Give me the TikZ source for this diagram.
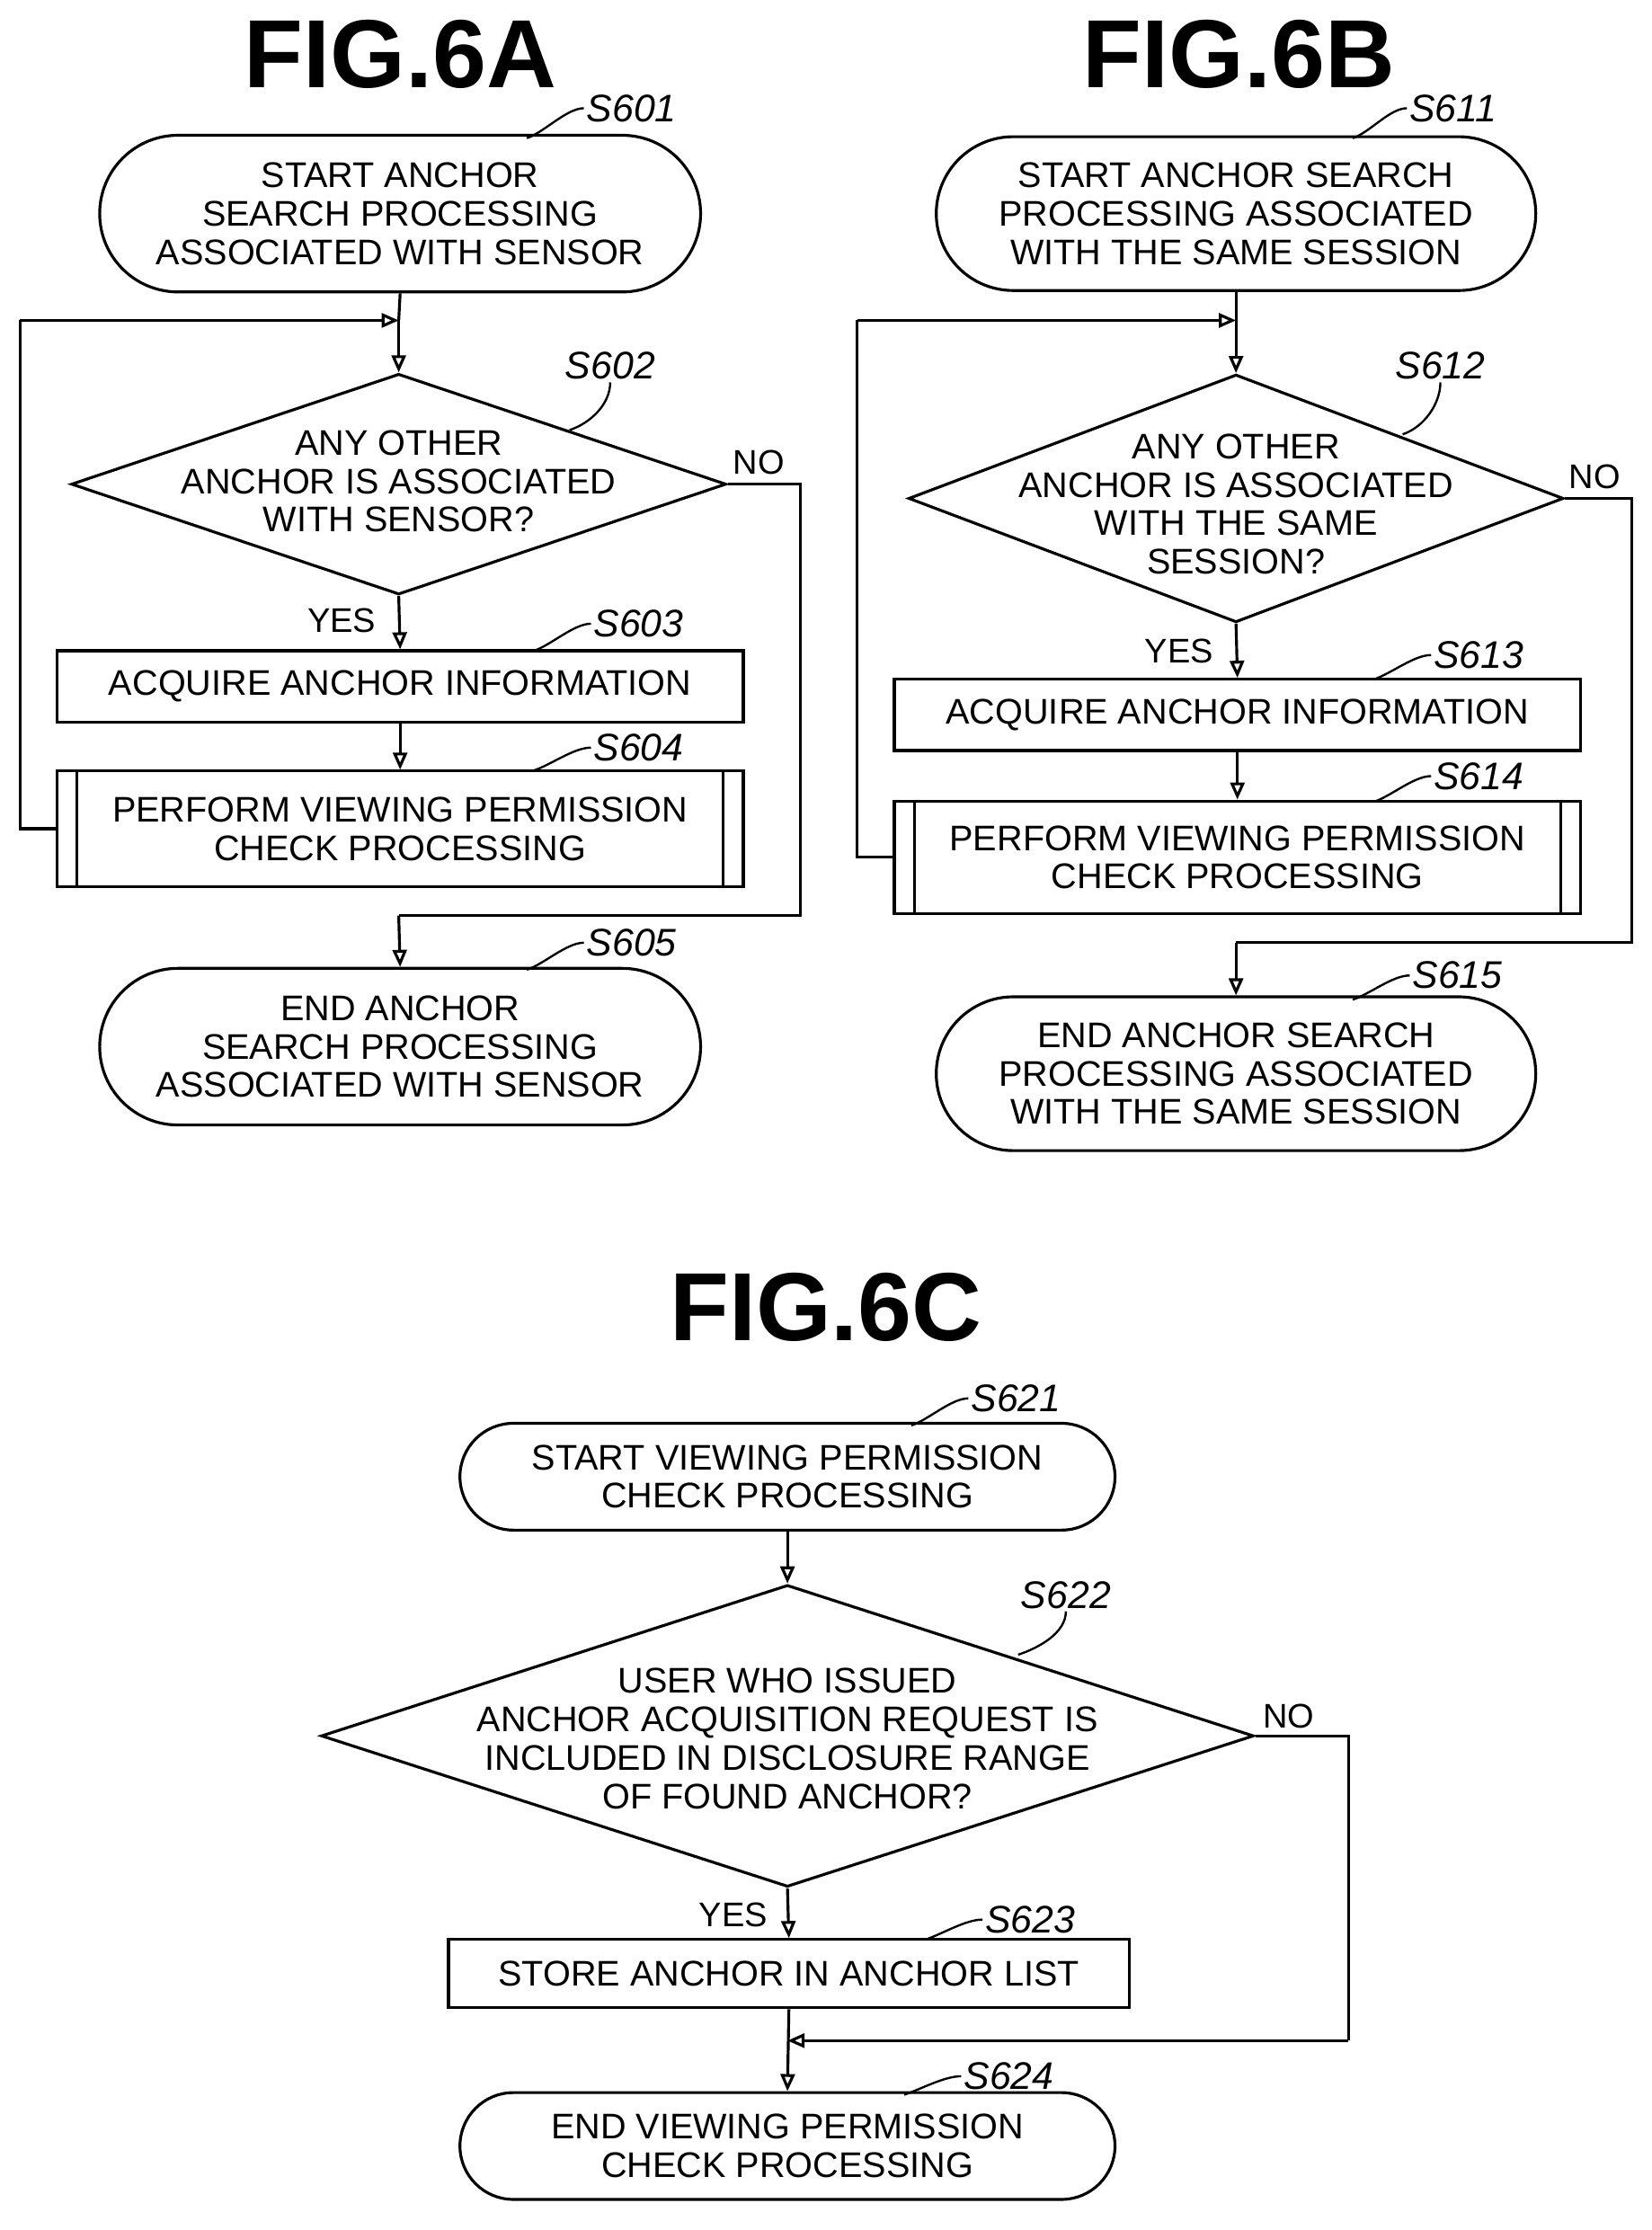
\documentclass[tikz,border=0pt]{standalone}
\usepackage{fontspec}
\setmainfont{Liberation Sans}
\usetikzlibrary{shapes.misc,shapes.geometric,arrows.meta}
\begin{document}
\begin{tikzpicture}[x=1pt,y=-1pt,line width=2pt,
  txt/.style={font=\fontsize{25}{27}\selectfont,align=center,inner sep=0pt},
  term/.style={txt,draw,rounded rectangle,minimum height=#1},
  box/.style={txt,draw,rectangle},
  dia/.style={txt,draw,diamond,aspect=2.6,inner sep=0pt},
  lbl/.style={font=\fontsize{27}{27}\selectfont\itshape,inner sep=1pt},
  ttl/.style={font=\fontsize{68}{68}\selectfont\bfseries,inner sep=0pt},
  yn/.style={font=\fontsize{24}{24}\selectfont,inner sep=0pt},
  arr/.style={-{Triangle[length=12pt,width=10pt,open]}}]
\useasboundingbox (0,0) rectangle (1160,1566);
% titles
\node[ttl] (t6a) at (281,38) {FIG.6A};
\node[ttl] (t6b) at (870,38) {FIG.6B};
\node[ttl] (t6c) at (580,918) {FIG.6C};
%%%%% 6A
\node[term=110pt,minimum width=422pt] (s601) at (281,150) {START ANCHOR\\SEARCH PROCESSING\\ASSOCIATED WITH SENSOR};
\node[dia,minimum width=460pt,minimum height=155pt] (s602) at (280,340) {};
\node[txt] (s602t) at (280,338) {ANY OTHER\\ANCHOR IS ASSOCIATED\\WITH SENSOR?};
\node[box,minimum width=482pt,minimum height=50pt] (s603) at (281,482) {ACQUIRE ANCHOR INFORMATION};
\node[box,minimum width=482pt,minimum height=81pt] (s604) at (281,582) {PERFORM VIEWING PERMISSION\\CHECK PROCESSING};
\draw ([xshift=15pt]s604.north west) -- ([xshift=15pt]s604.south west);
\draw ([xshift=-15pt]s604.north east) -- ([xshift=-15pt]s604.south east);
\node[term=110pt,minimum width=422pt] (s605) at (281,735) {END ANCHOR\\SEARCH PROCESSING\\ASSOCIATED WITH SENSOR};
\coordinate (a1) at (280,225);
\coordinate (a2) at (14,225);
\coordinate (a3) at (14,582);
\coordinate (a4) at (562,340);
\coordinate (a5) at (562,643);
\coordinate (a6) at (280,643);
\draw (s601.south) -- (a1);
\draw[arr] (a2) -- (a1);
\draw[arr] (a1) -- (s602.north);
\draw (s604.west) -- (a3) -- (a2);
\draw[arr] (s602.south) -- (s603.north);
\draw[arr] (s603.south) -- (s604.north);
\draw (s602.east) -- (a4) -- (a5) -- (a6);
\draw[arr] (a6) -- (s605.north);
\node[yn] (y1) at (240,436) {YES};
\node[yn] (n1) at (533,325) {NO};
%%%%% 6B
\node[term=108pt,minimum width=421pt] (s611) at (868,150) {START ANCHOR SEARCH\\PROCESSING ASSOCIATED\\WITH THE SAME SESSION};
\node[dia,minimum width=460pt,minimum height=174pt] (s612) at (868,350) {};
\node[txt] (s612t) at (868,354) {ANY OTHER\\ANCHOR IS ASSOCIATED\\WITH THE SAME\\SESSION?};
\node[box,minimum width=482pt,minimum height=50pt] (s613) at (869,502) {ACQUIRE ANCHOR INFORMATION};
\node[box,minimum width=482pt,minimum height=79pt] (s614) at (869,602) {PERFORM VIEWING PERMISSION\\CHECK PROCESSING};
\draw ([xshift=15pt]s614.north west) -- ([xshift=15pt]s614.south west);
\draw ([xshift=-15pt]s614.north east) -- ([xshift=-15pt]s614.south east);
\node[term=108pt,minimum width=421pt] (s615) at (868,754) {END ANCHOR SEARCH\\PROCESSING ASSOCIATED\\WITH THE SAME SESSION};
\coordinate (b1) at (868,225);
\coordinate (b2) at (602,225);
\coordinate (b3) at (602,602);
\coordinate (b4) at (1146,350);
\coordinate (b5) at (1146,662);
\coordinate (b6) at (868,662);
\draw (s611.south) -- (b1);
\draw[arr] (b2) -- (b1);
\draw[arr] (b1) -- (s612.north);
\draw (s614.west) -- (b3) -- (b2);
\draw[arr] (s612.south) -- (s613.north);
\draw[arr] (s613.south) -- (s614.north);
\draw (s612.east) -- (b4) -- (b5) -- (b6);
\draw[arr] (b6) -- (s615.north);
\node[yn] (y2) at (828,457) {YES};
\node[yn] (n2) at (1120,335) {NO};
%%%%% 6C
\node[term=75pt,minimum width=460pt] (s621) at (553,1037) {START VIEWING PERMISSION\\CHECK PROCESSING};
\node[dia,minimum width=655pt,minimum height=212pt] (s622) at (553,1219) {};
\node[txt] (s622t) at (553,1221) {USER WHO ISSUED\\ANCHOR ACQUISITION REQUEST IS\\INCLUDED IN DISCLOSURE RANGE\\OF FOUND ANCHOR?};
\node[box,minimum width=478pt,minimum height=48pt] (s623) at (554,1386) {STORE ANCHOR IN ANCHOR LIST};
\node[term=75pt,minimum width=460pt] (s624) at (553,1507) {END VIEWING PERMISSION\\CHECK PROCESSING};
\coordinate (c1) at (947,1219);
\coordinate (c2) at (947,1433);
\coordinate (c3) at (553,1433);
\draw[arr] (s621.south) -- (s622.north);
\draw[arr] (s622.south) -- (s623.north);
\draw[arr] (s623.south) -- (s624.north);
\draw (s622.east) -- (c1) -- (c2);
\draw[arr] (c2) -- (c3);
\node[yn] (y3) at (515,1345) {YES};
\node[yn] (n3) at (905,1205) {NO};
%%%%% step labels with leaders
\tikzset{lead/.style={line width=1.5pt}}
\node[lbl,anchor=west] (l601) at (410,76) {S601};
\draw[lead] (l601.west) .. controls +(-12,0) and +(12,-4) .. (370,97);
\node[lbl,anchor=west] (l602) at (395,257) {S602};
\draw[lead] (l602.south) .. controls +(0,15) and +(15,-5) .. (400,302);
\node[lbl,anchor=west] (l603) at (415,438) {S603};
\draw[lead] (l603.west) .. controls +(-12,0) and +(12,-4) .. (375,457);
\node[lbl,anchor=west] (l604) at (415,525) {S604};
\draw[lead] (l604.west) .. controls +(-12,0) and +(12,-4) .. (375,541);
\node[lbl,anchor=west] (l605) at (410,662) {S605};
\draw[lead] (l605.west) .. controls +(-12,0) and +(12,-4) .. (370,681);
\node[lbl,anchor=west] (l611) at (988,76) {S611};
\draw[lead] (l611.west) .. controls +(-12,0) and +(12,-4) .. (950,97);
\node[lbl,anchor=west] (l612) at (978,257) {S612};
\draw[lead] (l612.south) .. controls +(0,15) and +(15,-5) .. (985,305);
\node[lbl,anchor=west] (l613) at (1005,460) {S613};
\draw[lead] (l613.west) .. controls +(-12,0) and +(12,-4) .. (965,477);
\node[lbl,anchor=west] (l614) at (1005,545) {S614};
\draw[lead] (l614.west) .. controls +(-12,0) and +(12,-4) .. (965,563);
\node[lbl,anchor=west] (l615) at (990,685) {S615};
\draw[lead] (l615.west) .. controls +(-12,0) and +(12,-4) .. (950,702);
\node[lbl,anchor=west] (l621) at (680,982) {S621};
\draw[lead] (l621.west) .. controls +(-12,0) and +(12,-4) .. (640,1001);
\node[lbl,anchor=west] (l622) at (715,1120) {S622};
\draw[lead] (l622.south) .. controls +(0,15) and +(15,-5) .. (715,1162);
\node[lbl,anchor=west] (l623) at (690,1348) {S623};
\draw[lead] (l623.west) .. controls +(-12,0) and +(12,-4) .. (650,1362);
\node[lbl,anchor=west] (l624) at (675,1458) {S624};
\draw[lead] (l624.west) .. controls +(-12,0) and +(12,-4) .. (635,1471);
\end{tikzpicture}
\end{document}
